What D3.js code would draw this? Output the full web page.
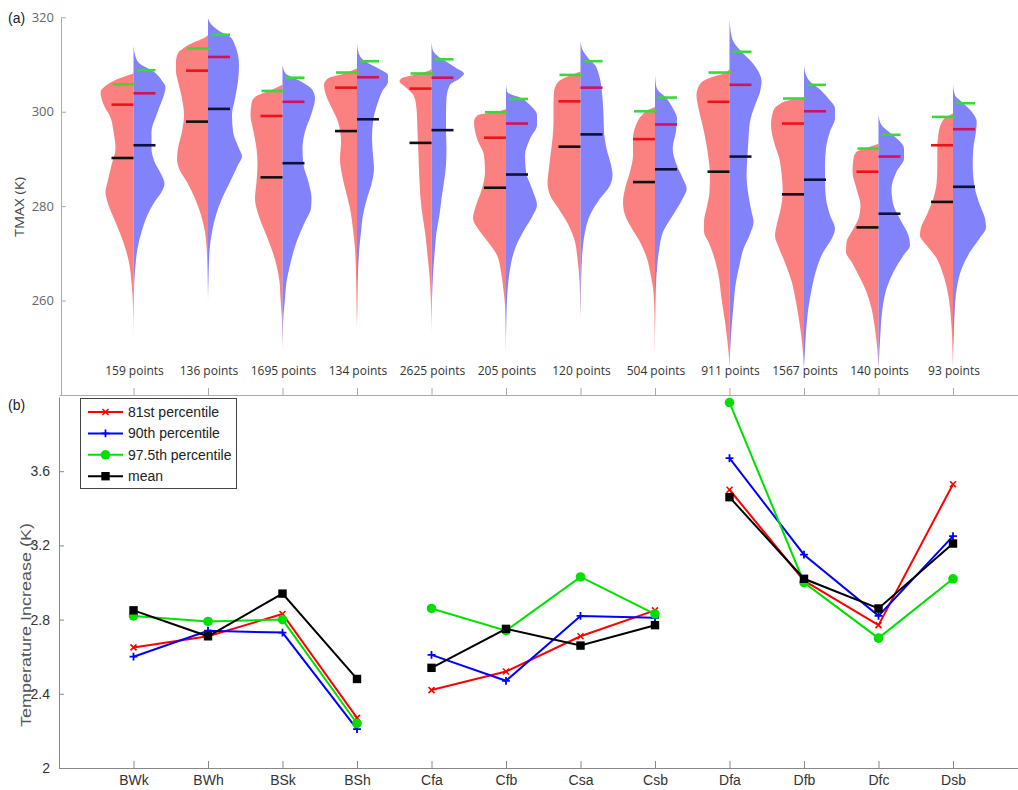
<!DOCTYPE html>
<html>
<head>
<meta charset="utf-8">
<script src="https://cdn.jsdelivr.net/npm/d3@7"></script>
<style>
  html, body { margin: 0; padding: 0; background: #fff; }
  svg { display: block; }
</style>
</head>
<body>
<svg id="chart" width="1018" height="790"></svg>
<script>
// ---------------- DATA ----------------
const categories = ["BWk","BWh","BSk","BSh","Cfa","Cfb","Csa","Csb","Dfa","Dfb","Dfc","Dsb"];
const pointCounts = [159,136,1695,134,2625,205,120,504,911,1567,140,93];

// panel (b): temperature increase (K)
const p81  = [2.65,2.71,2.83,2.27,2.42,2.52,2.71,2.85,3.50,3.01,2.77,3.53];
const p90  = [2.60,2.74,2.73,2.21,2.61,2.47,2.82,2.81,3.67,3.15,2.82,3.25];
const p975 = [2.82,2.79,2.80,2.24,2.86,2.74,3.03,2.83,3.97,3.00,2.70,3.02];
const meanInc = [2.85,2.71,2.94,2.48,2.54,2.75,2.66,2.77,3.46,3.02,2.86,3.21];
const yTicksB = [2, 2.4, 2.8, 3.2, 3.6];
const yTicksA = [260, 280, 300, 320];

// panel (a): violin halves, [TMAX (K), density (arbitrary units)]
const histDensity = [
  [[308.1,0],[307.4,10],[306.4,21],[305.3,29],[304.2,33],[302.8,32],[300.7,28],[299.3,24],[295.8,20],[292.2,18],[288.7,22],[285.1,26],[283.0,28],[280.9,26],[278.1,21],[274.5,14],[271.0,8],[267.5,4],[263.9,2],[260.4,0.8],[256.9,0.3],[252,0]],
  [[316.2,0],[315.5,5],[314.8,13],[313.4,25],[312.4,30],[310.6,32],[308.5,32],[306.4,30],[302.8,26],[299.3,24],[295.8,26],[292.2,30],[290.1,31],[288.0,29],[285.1,21],[281.6,13],[278.1,7],[274.5,3],[271,1.3],[264,0.3],[260,0]],
  [[305.7,0],[304.6,11],[303.2,27],[301.8,31],[299.3,32],[295.8,29],[292.2,26],[288.7,25],[285.1,26],[281.6,27.5],[278.1,24],[274.5,17.5],[271,11],[267.5,6],[264,3],[260.4,2],[256.9,0.8],[253.3,0.3],[249,0]],
  [[309.2,0],[308.1,12],[307.1,29],[305.7,33],[303.5,31],[300.7,25],[297.9,19],[293.6,16],[290.1,17],[286.6,15],[283,11],[279.5,7],[274.5,3.7],[271,2],[264,0.8],[257,0.3],[254,0]],
  [[309,0],[308.5,5],[307.8,18],[307.1,30],[306.4,32],[305.3,26.5],[303.5,18],[300.7,15],[295.8,14],[290.8,13],[285.1,12],[279.5,10],[274.5,6.5],[269.6,4],[265.4,2],[260.4,0.7],[256.9,0.3],[253,0]],
  [[300.5,0],[300,9],[299.3,28],[297.9,32],[294.3,29],[290.8,22],[287.3,21],[283.7,24],[280.2,30],[277.4,33],[275.2,28],[272.4,18],[269.6,9],[266.1,5],[262.5,2.7],[259,1],[253.3,0.4],[249,0]],
  [[308.5,0],[307.8,9],[306.4,22],[304.2,26.5],[301.4,27],[297.9,27],[294.3,28],[290.8,30],[287.3,32],[285.1,33],[282.3,30.5],[279.5,22],[276,12],[272.4,5.5],[268.9,3],[264,1],[259,0.3],[256,0]],
  [[301,0],[300.4,6.7],[299.3,13],[297.2,19],[294.3,22],[290.8,22],[287.3,25],[283.7,30],[280.9,32],[278.1,30],[275.2,23],[272.4,15],[268.9,8],[265.4,4.3],[261.8,1.5],[256.9,0.5],[251.2,0.2],[249,0]],
  [[309,0],[308.1,6],[307.1,21],[305.7,30],[303.5,33],[300.7,31],[297.2,27],[293.6,23.5],[290.1,21],[286.6,19.5],[283,20],[279.5,23],[276.7,25.5],[274.5,25.5],[272.4,21],[269.6,16],[265.4,11],[260.4,8],[255.5,4.5],[251.2,2],[248.4,0.7],[246,0]],
  [[303,0],[302.5,14],[301.4,25.7],[300,31],[297.2,33],[293.6,30],[290.1,24.7],[286.6,22.3],[283,21.3],[279.5,23.3],[276,27.3],[273.8,29],[271,24.7],[267.5,18],[264,12.3],[259.7,8],[255.5,4.7],[251.2,2],[247.7,0.7],[245,0]],
  [[293.2,0],[292.6,8.5],[291.5,22],[290.1,25],[287.3,26],[283.7,22],[280.2,18],[277.4,20],[274.5,27],[272.4,32],[270.3,32.5],[268.2,27],[265.4,20],[261.8,12],[258.3,7],[254,3.5],[249.8,1.2],[247.7,0.5],[245.5,0]],
  [[299.6,0],[299,6],[297.9,11],[295.1,14.7],[292.2,15.7],[288.7,15.7],[285.1,16.3],[281.6,19.7],[278.1,26.3],[275.2,32.3],[273.8,33],[271.7,26.3],[268.9,16.3],[265.4,9.7],[261.1,4.7],[256.9,2.3],[251.9,0.8],[247.7,0.3],[246,0]]
];
const futDensity = [
  [[314,0],[311.3,2.7],[309.9,8],[308.8,18],[307.8,24],[306.4,29],[305.3,32],[303.9,31],[302.1,28],[299.3,23],[295.8,18],[292.2,18],[289.4,21],[286.6,28],[284.8,31],[283.0,28],[280.9,21],[278.1,14],[274.5,8],[271.0,4],[267.5,2],[264,0.8],[260,0.3],[256,0]],
  [[319.8,0],[318.4,3.7],[317,12],[315.9,22],[314.1,27],[312,30],[309.9,31],[306.4,30],[302.8,27],[299.3,24],[295.8,25],[292.2,31],[290.5,34],[288.7,30],[285.1,22],[281.6,14],[278.1,8],[274.5,4],[271,1.7],[264,0.4],[260,0]],
  [[309.9,0],[308.1,3],[307.1,12],[306,22],[304.6,30],[302.8,32.5],[299.3,28.5],[295.8,22.5],[292.2,20],[288.7,21],[285.1,26],[281.6,29],[279.5,28.5],[276.7,22.5],[272.4,14],[267.5,7.5],[264,4],[260.4,2.5],[256.9,1],[253.3,0.3],[250,0]],
  [[314.5,0],[312.7,1.3],[311.3,4.7],[309.9,14.7],[308.8,24.7],[307.8,31],[306.4,31],[304.2,25],[301.4,20],[297.9,16],[294.3,15],[290.8,16],[288,17],[285.1,15],[281.6,10],[278.1,6],[274.5,4],[271,2.3],[264,0.7],[258,0.3],[255,0]],
  [[314.8,0],[313.1,1.2],[312,5],[310.6,15],[309.2,25],[308.1,32.5],[307.1,28.5],[305.7,18.5],[302.8,15],[299.3,14.5],[295.8,14.5],[292.2,15],[288.7,14.5],[285.1,12.5],[281.6,10],[278.1,8],[274.5,5],[271,3.5],[265.4,1.5],[260.4,0.5],[256,0]],
  [[306,0],[304.2,1.3],[302.8,16],[301.4,24],[299.3,31],[297.2,31],[294.3,24],[290.8,19],[287.3,20],[283.7,26],[280.2,31],[278.1,27],[274.5,17],[271,9],[267.5,4.7],[264,2.3],[260.4,1],[255.5,0.3],[252,0]],
  [[314.8,0],[312.7,3],[311.3,8],[309.9,14.5],[308.1,18],[306.4,20],[302.8,22],[299.3,23],[295.8,23.5],[292.2,26],[288.7,30.5],[286.6,32],[284.4,29.5],[281.6,19.5],[278.1,9.5],[274.5,4.5],[271,2.2],[265.4,0.8],[260.4,0.3],[257,0]],
  [[307.8,0],[305,1.7],[302.8,11.7],[300.7,18],[298.6,22],[295.8,21],[292.2,17.7],[288.7,21.7],[285.8,28],[283.7,31.7],[281.6,27.7],[278.1,18],[274.5,8],[271,4.3],[267.5,2.3],[262.5,0.8],[256.9,0.3],[253,0]],
  [[319.8,0],[317,1.2],[314.8,4],[312.7,12],[310.6,22],[308.5,29],[306.4,32],[304.2,30.5],[301.4,25.5],[297.9,20.5],[294.3,19],[290.8,18],[286.6,17],[282.3,19],[278.8,22],[276.7,24],[273.8,20],[271,14],[267.5,10],[264,6.5],[259,4],[254.1,2],[249.8,0.8],[246,0]],
  [[309.9,0],[307.8,2],[306.4,6],[305,14.3],[302.8,24.3],[300.7,31],[298.6,31],[295.8,26],[292.2,22],[288.7,21],[285.1,21],[281.6,22],[278.1,26],[275.2,31],[273.1,27.7],[270.3,19.3],[266.8,12.7],[262.5,7.7],[258.3,4.3],[253.3,2],[248.4,0.7],[246,0]],
  [[299.3,0],[297.2,3],[295.8,10],[294,20],[292.2,25.5],[290.1,25.5],[287.3,18],[283.7,13],[280.2,15],[276.7,23],[273.8,30],[271.7,31.5],[269.6,25],[266.1,15],[262.5,8],[258.3,4],[253.3,2],[248.4,0.7],[246,0]],
  [[305.7,0],[303.5,2],[302.1,8.7],[300,18.7],[297.9,23.7],[295.8,23],[292.2,20.3],[288.7,19.7],[283.7,22],[280.2,27],[277.4,32],[275.6,33],[273.1,26.3],[270.3,17],[266.8,8.7],[262.5,3.7],[256.9,1.5],[251.2,0.5],[248,0]]
];
// horizontal statistic lines in each half (TMAX, K)
const histMean = [290.2,297.9,286.1,295.9,293.4,283.9,292.6,285.1,287.3,282.5,275.5,280.9];
const futMean  = [292.9,300.6,289.1,298.4,296.1,286.7,295.2,287.8,290.5,285.6,278.4,284.1];
const histP90  = [301.5,308.7,299.1,305.1,304.9,294.5,302.2,294.2,302.1,297.5,287.3,292.9];
const futP90   = [303.9,311.6,302.1,307.3,307.2,297.5,305.1,297.3,305.7,300.1,290.5,296.3];
const histP975 = [305.8,313.4,304.4,308.3,308.1,299.9,307.8,300.1,308.3,302.8,292.2,298.9];
const futP975  = [308.8,316.3,307.2,310.7,311.1,302.7,310.7,303.0,312.7,305.7,295.1,301.8];

// ---------------- DRAW ----------------
const svg = d3.select("#chart");
svg.append("rect").attr("width",1018).attr("height",790).attr("fill","#fff");

const x = d3.scaleLinear().domain([0, 13]).range([59, 59 + 13 * 74.5]);
const yA = d3.scaleLinear().domain([240, 320]).range([395, 17.3]);
const yB = d3.scaleLinear().domain([2, 4]).range([768, 397]);
const half = (x(1) - x(0)) / 2;
const wScale = d3.scaleLinear().domain([0, 37.25]).range([0, half]);
const idx = d3.range(1, 13);

const SANS = "'Liberation Sans', Arial, Helvetica, sans-serif";
const OPEN = "'Open Sans', 'Noto Sans', sans-serif";

// ---- Panel (a) ----
const gA = svg.append("g");
categories.forEach((c, i) => {
  const cx = x(i + 1);
  const left = histDensity[i].slice().sort((a, b) => a[0] - b[0]);
  const right = futDensity[i].slice().sort((a, b) => a[0] - b[0]);
  const areaL = d3.area().curve(d3.curveMonotoneY)
    .y(d => yA(d[0])).x0(cx).x1(d => cx - wScale(d[1]));
  const areaR = d3.area().curve(d3.curveMonotoneY)
    .y(d => yA(d[0])).x0(cx).x1(d => cx + wScale(d[1]));
  gA.append("path").attr("d", areaL(left)).attr("fill", "#fb8080");
  gA.append("path").attr("d", areaR(right)).attr("fill", "#8282fb");

  const seg = (t, x0, x1, col) => gA.append("line")
    .attr("x1", x0).attr("x2", x1).attr("y1", yA(t)).attr("y2", yA(t))
    .attr("stroke", col).attr("stroke-width", 2.6);
  seg(histMean[i], cx - 22, cx, "#111");
  seg(futMean[i], cx, cx + 22, "#101038");
  seg(histP90[i], cx - 22, cx, "#e8141c");
  seg(futP90[i], cx, cx + 22, "#d0145a");
  seg(histP975[i], cx - 21, cx + 2, "#3ad83a");
  seg(futP975[i], cx + 3, cx + 22, "#3ad83a");

  gA.append("text").attr("x", cx + 1).attr("y", 370)
    .attr("text-anchor", "middle").attr("dominant-baseline", "central")
    .attr("font-family", OPEN).attr("font-size", 12).attr("fill", "#333")
    .text(pointCounts[i] + " points");
});

const axA = gA.append("g").attr("transform", "translate(61,0)")
  .call(d3.axisLeft(yA).tickValues(yTicksA).tickSizeInner(-5).tickSizeOuter(0).tickPadding(7).tickFormat(d3.format("d")));
axA.select(".domain").attr("stroke", "#aaa");
axA.selectAll(".tick line").attr("stroke", "#aaa");
axA.selectAll("text").attr("font-family", OPEN).attr("font-size", 13).attr("fill", "#666");

const axAx = gA.append("g").attr("transform", "translate(0,395)")
  .call(d3.axisBottom(x).tickValues(idx).tickSizeInner(-7).tickSizeOuter(0).tickFormat(""));
axAx.select(".domain").attr("stroke", "#aaa");
axAx.selectAll(".tick line").attr("stroke", "#aaa");

gA.append("text").attr("x", 8).attr("y", 18).attr("dominant-baseline", "central")
  .attr("font-family", SANS).attr("font-size", 14).attr("fill", "#222").text("(a)");
gA.append("text").attr("transform", "translate(19,207) rotate(-90)")
  .attr("text-anchor", "middle").attr("dominant-baseline", "central")
  .attr("font-family", OPEN).attr("font-size", 13.5).attr("fill", "#444")
  .attr("textLength", 60).attr("lengthAdjust", "spacingAndGlyphs").text("TMAX (K)");

// ---- Panel (b) ----
const gB = svg.append("g");
const axBy = gB.append("g").attr("transform", "translate(59,0)")
  .call(d3.axisLeft(yB).tickValues(yTicksB).tickSizeInner(-5).tickSizeOuter(0).tickPadding(9).tickFormat(d3.format("")));
axBy.select(".domain").attr("stroke", "#888");
axBy.selectAll(".tick line").attr("stroke", "#888");
axBy.selectAll("text").attr("font-family", SANS).attr("font-size", 14).attr("fill", "#333");

const axBx = gB.append("g").attr("transform", "translate(0,768)")
  .call(d3.axisBottom(x).tickValues(idx).tickSizeInner(-7).tickSizeOuter(0).tickPadding(7)
    .tickFormat(d => categories[d - 1]));
axBx.select(".domain").attr("stroke", "#888");
axBx.selectAll(".tick line").attr("stroke", "#888");
axBx.selectAll("text").attr("font-family", SANS).attr("font-size", 14).attr("fill", "#333");

gB.append("text").attr("x", 8).attr("y", 405).attr("dominant-baseline", "central")
  .attr("font-family", SANS).attr("font-size", 14).attr("fill", "#222").text("(b)");
gB.append("text").attr("transform", "translate(25,625) rotate(-90)")
  .attr("text-anchor", "middle").attr("dominant-baseline", "central")
  .attr("font-family", SANS).attr("font-size", 15).attr("fill", "#555")
  .attr("textLength", 204).attr("lengthAdjust", "spacingAndGlyphs").text("Temperature Increase (K)");

const series = [
  { name: "81st percentile", values: p81, color: "#ff0000", marker: "x" },
  { name: "90th percentile", values: p90, color: "#0000ff", marker: "plus" },
  { name: "97.5th percentile", values: p975, color: "#00e000", marker: "circle" },
  { name: "mean", values: meanInc, color: "#000000", marker: "square" }
];

function drawMarker(g, type, cx, cy, color) {
  if (type === "x") {
    g.append("path").attr("transform", `translate(${cx},${cy})`)
      .attr("d", d3.symbol(d3.symbolX, 25)()).attr("fill", "none").attr("stroke", color).attr("stroke-width", 1.6);
  } else if (type === "plus") {
    g.append("path").attr("transform", `translate(${cx},${cy})`)
      .attr("d", d3.symbol(d3.symbolPlus, 22)()).attr("fill", "none").attr("stroke", color).attr("stroke-width", 1.8);
  } else if (type === "circle") {
    g.append("circle").attr("cx", cx).attr("cy", cy).attr("r", 4.8).attr("fill", color);
  } else {
    g.append("rect").attr("x", cx - 4.2).attr("y", cy - 4.2).attr("width", 8.4).attr("height", 8.4).attr("fill", color);
  }
}

const groups = Array.from(new Set(categories.map(c => c[0])));
series.forEach(s => {
  const g = gB.append("g");
  groups.forEach(gr => {
    const pts = categories.map((c, i) => ({ c, i, v: s.values[i] })).filter(d => d.c[0] === gr);
    g.append("path").datum(pts)
      .attr("d", d3.line().x(d => x(d.i + 1)).y(d => yB(d.v)))
      .attr("fill", "none").attr("stroke", s.color).attr("stroke-width", 2);
  });
  s.values.forEach((v, i) => drawMarker(g, s.marker, x(i + 1), yB(v), s.color));
});

// legend
const lg = gB.append("g");
lg.append("rect").attr("x", 80.5).attr("y", 398.5).attr("width", 156).attr("height", 90)
  .attr("fill", "#fff").attr("stroke", "#444").attr("stroke-width", 1);
series.forEach((s, k) => {
  const ly = 412 + k * 21.4;
  lg.append("line").attr("x1", 88).attr("x2", 123).attr("y1", ly).attr("y2", ly)
    .attr("stroke", s.color).attr("stroke-width", 2);
  drawMarker(lg, s.marker, 105.5, ly, s.color);
  lg.append("text").attr("x", 128).attr("y", ly).attr("dominant-baseline", "central")
    .attr("font-family", SANS).attr("font-size", 14).attr("fill", "#222").text(s.name);
});
</script>
</body>
</html>
